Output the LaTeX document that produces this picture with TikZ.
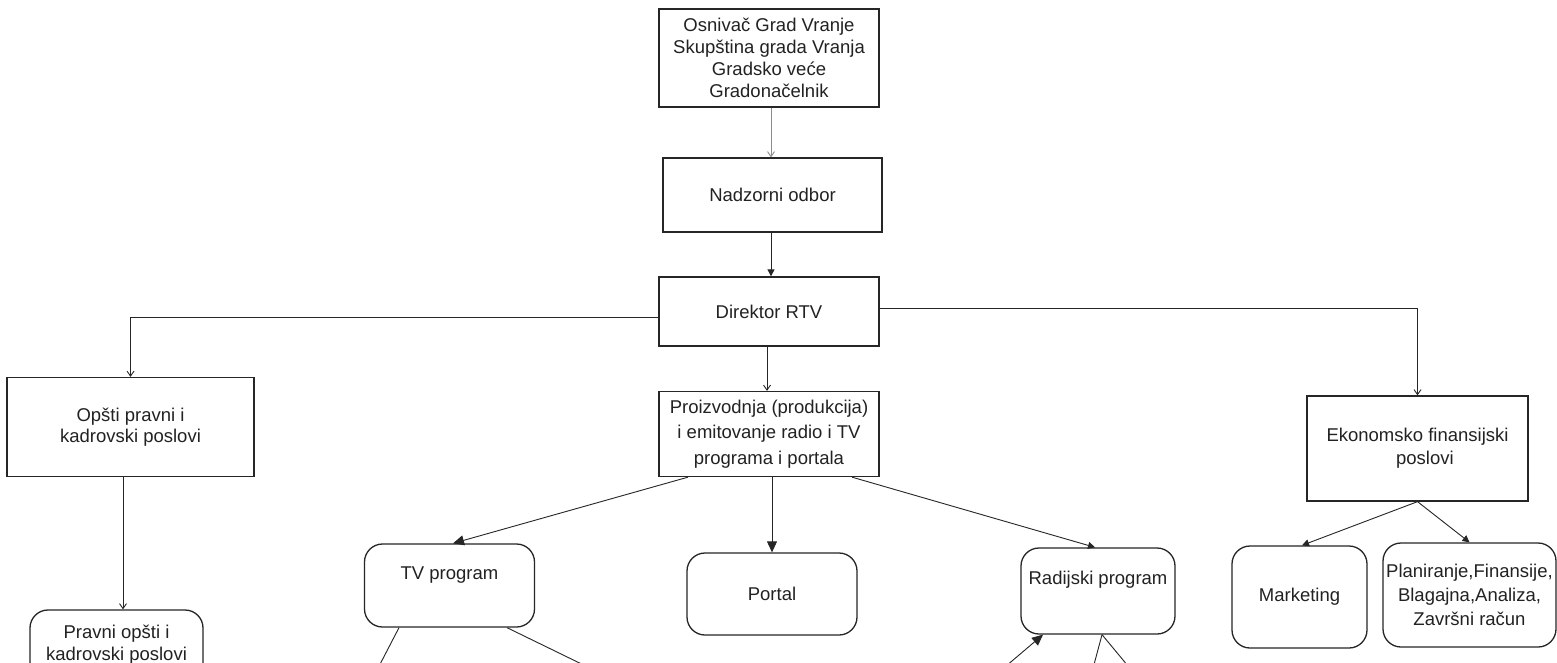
\documentclass[tikz,border=0pt]{standalone}
\usepackage{fontspec}
\setmainfont{Liberation Sans}
\usetikzlibrary{arrows.meta}
\definecolor{txt}{HTML}{222222}
\tikzset{
  box/.style={draw=black!85, line width=1.3pt, rectangle, inner sep=0pt, align=center, text=txt,
    font=\fontsize{18.5}{22}\selectfont},
  rbox/.style={box, rounded corners=18pt},
  lbl/.style={inner sep=0pt, align=center, text=txt, font=\fontsize{18.5}{22}\selectfont},
  conn/.style={draw=black!85, line width=0.9pt},
  vtip/.style={conn, -{Straight Barb[length=5pt,width=7pt]}},
  ftip/.style={conn, -{Triangle[length=11pt,width=10pt]}},
  stip/.style={conn, -{Triangle[length=7pt,width=7pt]}},
}
\begin{document}
\begin{tikzpicture}[x=1pt,y=-1pt]
\useasboundingbox (0,0) rectangle (1557,662);
\clip (0,0) rectangle (1557,662);
\fill[white] (0,0) rectangle (1557,662);

% boxes
\node[box, minimum width=220pt, minimum height=98pt] (osn) at (769,58)
  {Osnivač Grad Vranje\\Skupština grada Vranja\\Gradsko veće\\Gradonačelnik};
\node[box, minimum width=219pt, minimum height=74pt] (nad) at (772.5,195) {Nadzorni odbor};
\node[box, minimum width=220pt, minimum height=69pt] (dir) at (769,311.5) {Direktor RTV};
\node[box, minimum width=247pt, minimum height=99pt, font=\fontsize{18.5}{20.5}\selectfont] (ops) at (130.5,427)
  {Opšti pravni i\\kadrovski poslovi};
\node[box, minimum width=220pt, minimum height=85pt, font=\fontsize{18.5}{25.5}\selectfont] (pro) at (769,434)
  {Proizvodnja (produkcija)\\i emitovanje radio i TV\\programa i portala};
\node[box, minimum width=221pt, minimum height=105pt, font=\fontsize{18.5}{23}\selectfont] (eko) at (1417.5,448.5)
  {Ekonomsko finansijski\\\hspace*{0.8em}poslovi};

\node[rbox, minimum width=173pt, minimum height=70pt, font=\fontsize{18.5}{22}\selectfont] (pra) at (116.5,645)
  {Pravni opšti i\\kadrovski poslovi};
\node[rbox, minimum width=170pt, minimum height=83pt] (tv) at (449.5,585.5) {};
\node[lbl] (tvt) at (449.5,575) {TV program};
\node[rbox, minimum width=170pt, minimum height=82pt] (por) at (772,594) {Portal};
\node[rbox, minimum width=154pt, minimum height=86pt] (rad) at (1098,591) {};
\node[lbl] (radt) at (1098,580) {Radijski program};
\node[rbox, minimum width=135pt, minimum height=102pt] (mar) at (1299.5,597) {Marketing};
\node[rbox, minimum width=173pt, minimum height=104pt, font=\fontsize{18.5}{24}\selectfont] (pla) at (1469.5,595)
  {Planiranje,Finansije,\\Blagajna,Analiza,\\Završni račun};

% connectors
\draw[vtip, draw=black!45] ([xshift=2pt]osn.south) -- ([xshift=-1.5pt]nad.north);
\draw[stip] ([xshift=-1.5pt]nad.south) -- ([xshift=2pt]dir.north);
\draw[vtip] ([yshift=-5.5pt]dir.west) -| (ops.north);
\draw[vtip] ([yshift=3.5pt]dir.east) -| (eko.north);
\draw[vtip] ([xshift=-2pt]dir.south) -- ([xshift=-2pt]pro.north);
\draw[vtip] ([xshift=-7.5pt]ops.south) -- ([xshift=6.5pt]pra.north);
\draw[ftip] ([xshift=-81pt]pro.south) -- ([xshift=3.5pt]tv.north);
\draw[ftip] ([xshift=3pt]pro.south) -- (por.north);
\draw[stip] ([xshift=83pt]pro.south) -- ([xshift=-3pt]rad.north);
\draw[stip] (eko.south) -- ([xshift=2.5pt]mar.north);
\draw[stip] (eko.south) -- (pla.north);

% lines leaving the frame
\coordinate (tvl) at (376,672);
\coordinate (tvr) at (598,672);
\coordinate (rdl) at (999,672);
\coordinate (rdm) at (1092,672);
\coordinate (rdr) at (1133,672);
\draw[conn] ([xshift=-50.5pt]tv.south) -- (tvl);
\draw[conn] ([xshift=57.5pt]tv.south) -- (tvr);
\draw[ftip] (rdl) -- ([xshift=-55pt]rad.south);
\draw[conn] ([xshift=4pt]rad.south) -- (rdm);
\draw[conn] ([xshift=4pt]rad.south) -- (rdr);
\end{tikzpicture}
\end{document}
